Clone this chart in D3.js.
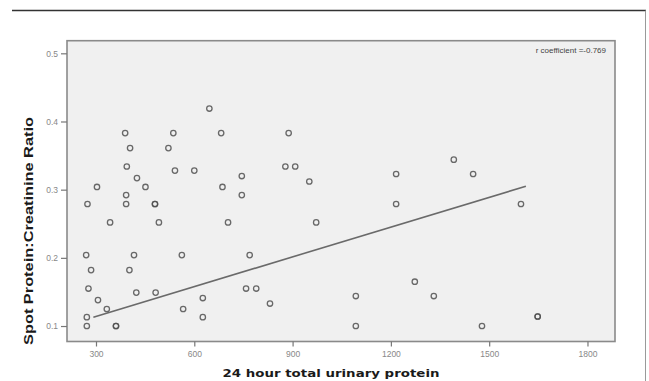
<!DOCTYPE html>
<html><head><meta charset="utf-8">
<script src="https://cdn.jsdelivr.net/npm/d3@7"></script>
<style>html,body{margin:0;padding:0;background:#fff;}svg{display:block;font-family:"Liberation Sans",Arial,sans-serif;}</style>
</head><body>
<script>
// 24 hour total urinary protein
const urinaryProtein = [646,389,536,682,888,404,521,394,541,600,878,908,425,745,951,303,451,686,392,745,274,392,480,480,343,492,703,972,270,416,562,769,285,402,277,423,482,758,789,306,626,831,333,566,272,626,272,361,361,1093,1093,1392,1216,1451,1216,1597,1273,1331,1478,1648,1648];
// Spot protein:creatinine ratio
const pcRatio = [0.419,0.383,0.383,0.383,0.383,0.361,0.361,0.334,0.328,0.328,0.334,0.334,0.317,0.320,0.312,0.304,0.304,0.304,0.292,0.292,0.279,0.279,0.279,0.279,0.252,0.252,0.252,0.252,0.204,0.204,0.204,0.204,0.182,0.182,0.155,0.149,0.149,0.155,0.155,0.138,0.141,0.133,0.125,0.125,0.113,0.113,0.100,0.100,0.100,0.144,0.100,0.344,0.323,0.323,0.279,0.279,0.165,0.144,0.100,0.114,0.114];
const fitX = [292, 1612];
const fitY = [0.113, 0.305];
const xTicks = [300, 600, 900, 1200, 1500, 1800];
const yTicks = [0.1, 0.2, 0.3, 0.4, 0.5];
const xTitle = "24 hour total urinary protein";
const yTitle = "Spot Protein:Creatinine Ratio";
const note = "r coefficient =-0.769";

const W = 649, H = 381;
const L = 67, R = 615, T = 40.7, B = 341.5;
const svg = d3.select("body").append("svg").attr("width", W).attr("height", H);

const x = d3.scaleLinear().domain([211.5, 1884]).range([L, R]);
const y = d3.scaleLinear().domain([0.0773, 0.5185]).range([B, T]);

// outer frame lines
svg.append("line").attr("x1", 12).attr("x2", 646).attr("y1", 10.5).attr("y2", 10.5).attr("stroke", "#333").attr("stroke-width", 1.5);
svg.append("line").attr("x1", 645.5).attr("x2", 645.5).attr("y1", 10.5).attr("y2", H).attr("stroke", "#9a9a9a").attr("stroke-width", 1);

// plot background
svg.append("rect").attr("x", L).attr("y", T).attr("width", R - L).attr("height", B - T)
  .attr("fill", "#f0f0f0").attr("stroke", "#8a8a8a").attr("stroke-width", 1.6);

// axes
const xAxis = svg.append("g").attr("transform", `translate(0,${B})`)
  .call(d3.axisBottom(x).tickValues(xTicks).tickSize(5).tickPadding(4).tickFormat(d3.format("d")));
const yAxis = svg.append("g").attr("transform", `translate(${L},0)`)
  .call(d3.axisLeft(y).tickValues(yTicks).tickSize(6).tickPadding(3).tickFormat(d3.format(".1f")));
[xAxis, yAxis].forEach(g => {
  g.select(".domain").remove();
  g.selectAll("line").attr("stroke", "#777").attr("stroke-width", 1.2);
  g.selectAll("text").attr("fill", "#888").attr("font-size", 8.5).attr("font-family", "Liberation Sans, Arial, sans-serif");
});

// fit line
svg.append("line").attr("x1", x(fitX[0])).attr("y1", y(fitY[0])).attr("x2", x(fitX[1])).attr("y2", y(fitY[1]))
  .attr("stroke", "#6a6a6a").attr("stroke-width", 1.6);

// points
svg.append("g").selectAll("circle").data(urinaryProtein.map((v, i) => [v, pcRatio[i]])).join("circle")
  .attr("cx", d => x(d[0])).attr("cy", d => y(d[1])).attr("r", 2.7)
  .attr("fill", "none").attr("stroke", "#505050").attr("stroke-width", 1.3).attr("stroke-opacity", 0.85);

// note
svg.append("text").attr("x", 606).attr("y", 53).attr("text-anchor", "end")
  .attr("font-size", 8).attr("fill", "#444").text(note);

// titles
svg.append("text").attr("x", 331).attr("y", 377).attr("text-anchor", "middle")
  .attr("font-family", "DejaVu Sans, Verdana, sans-serif")
  .attr("font-size", 11).attr("font-weight", "bold").attr("fill", "#1a1a1a")
  .attr("textLength", 217).attr("lengthAdjust", "spacingAndGlyphs").text(xTitle);
svg.append("text").attr("transform", "translate(33,231) rotate(-90)").attr("text-anchor", "middle")
  .attr("font-size", 13).attr("font-weight", "bold").attr("fill", "#1a1a1a")
  .attr("textLength", 228).attr("lengthAdjust", "spacingAndGlyphs").text(yTitle);
</script>
</body></html>
